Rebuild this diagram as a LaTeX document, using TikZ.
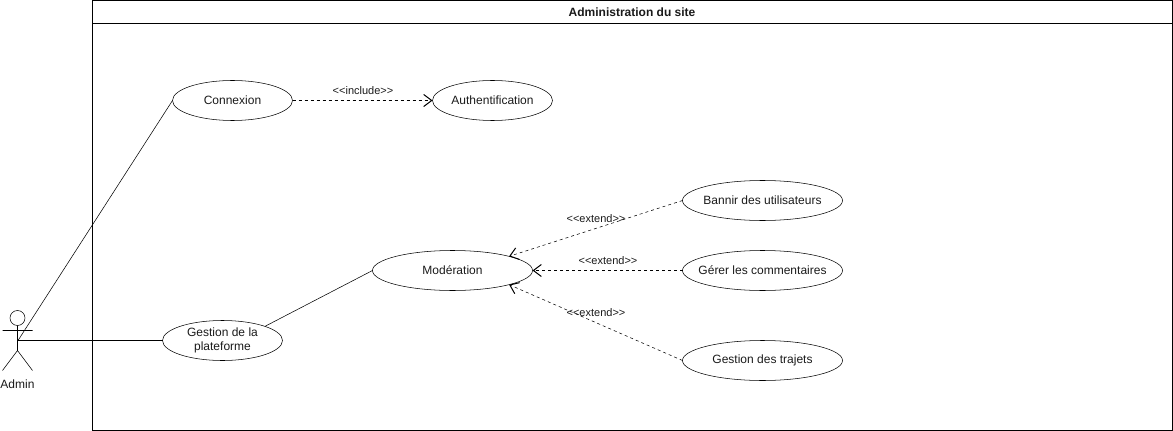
\documentclass[tikz,border=0pt]{standalone}
\usepackage{fontspec}
\setmainfont{Liberation Sans}
\usetikzlibrary{shapes.geometric,arrows.meta}
\definecolor{txt}{HTML}{1A1A1A}
\newcommand{\uctext}[1]{\makebox[0pt][c]{#1}}
\tikzset{
  x=0.75pt,y=-0.75pt,
  line width=0.75pt,
  usecase/.style={draw,ellipse,inner sep=0pt,outer sep=0pt,minimum height=30pt,align=center,font=\fontsize{9}{10.8}\selectfont,text=txt},
  ucsmall/.style={usecase,minimum width=90pt},
  ucwide/.style={usecase,minimum width=120pt},
  stereo/.style={font=\fontsize{8.25}{9.5}\selectfont,text=txt,inner sep=0pt},
  dep/.style={draw,dashed,dash pattern=on 2.25pt off 2.25pt,-{Straight Barb[length=6pt,width=9pt,line width=0.75pt]}},
  assoc/.style={draw},
}
\begin{document}
\begin{tikzpicture}
\useasboundingbox (0,0) rectangle (1173,431);
% system frame
\node[draw,minimum width=810pt,minimum height=322.5pt,inner sep=0pt,outer sep=0pt,anchor=north west] (frame) at (92.5,0.5) {};
\coordinate (hl) at (92.5,23.5);
\coordinate (hr) at (1172.5,23.5);
\draw (hl) -- (hr);
\node[font=\fontsize{9}{10.5}\selectfont\bfseries,text=txt,inner sep=0pt] (title) at (632,12) {Administration du site};
% actor
\node[minimum width=22.5pt,minimum height=45pt,inner sep=0pt] (actor) at (18,340.5) {};
\node[draw,circle,minimum size=11.25pt,inner sep=0pt,outer sep=0pt] (head) at (17.5,318) {};
\coordinate (neck) at (17.5,325.5);
\coordinate (hip) at (17.5,350.5);
\coordinate (armL) at (2.5,330.5);
\coordinate (armR) at (32.5,330.5);
\coordinate (legL) at (2.5,370.5);
\coordinate (legR) at (32.5,370.5);
\draw (neck) -- (hip) (armL) -- (armR) (legL) -- (hip) -- (legR);
\node[font=\fontsize{9}{10.5}\selectfont,text=txt,inner sep=0pt] (adminlabel) at (17.5,384) {Admin};
% use cases
\node[ucsmall] (connexion) at (232.5,100.5) {Connexion};
\node[ucsmall] (auth) at (492.5,100.5) {\uctext{Authentification}};
\node[ucsmall] (plateforme) at (222.5,340.5) {Gestion de la\\plateforme};
\node[ucwide] (moderation) at (452.5,270.5) {Modération};
\node[ucwide] (bannir) at (762.5,200.5) {\uctext{Bannir des utilisateurs}};
\node[ucwide] (gerer) at (762.5,270.5) {\uctext{Gérer les commentaires}};
\node[ucwide] (trajets) at (762.5,360.5) {\uctext{Gestion des trajets}};
% associations
\draw[assoc] (actor.center) -- (connexion.west);
\draw[assoc] (actor.center) -- (plateforme.west);
\draw[assoc] (plateforme.north east) -- (moderation.west);
% dependencies
\draw[dep] (connexion) -- (auth);
\draw[dep] (bannir.west) -- (moderation.north east);
\draw[dep] (gerer.west) -- (moderation.east);
\draw[dep] (trajets.west) -- (moderation.south east);
% stereotypes
\node[stereo] (s1) at (363,91) {<{}<include>{}>};
\node[stereo] (s2) at (596,219) {<{}<extend>{}>};
\node[stereo] (s3) at (608,261) {<{}<extend>{}>};
\node[stereo] (s4) at (596,313) {<{}<extend>{}>};
\end{tikzpicture}
\end{document}
